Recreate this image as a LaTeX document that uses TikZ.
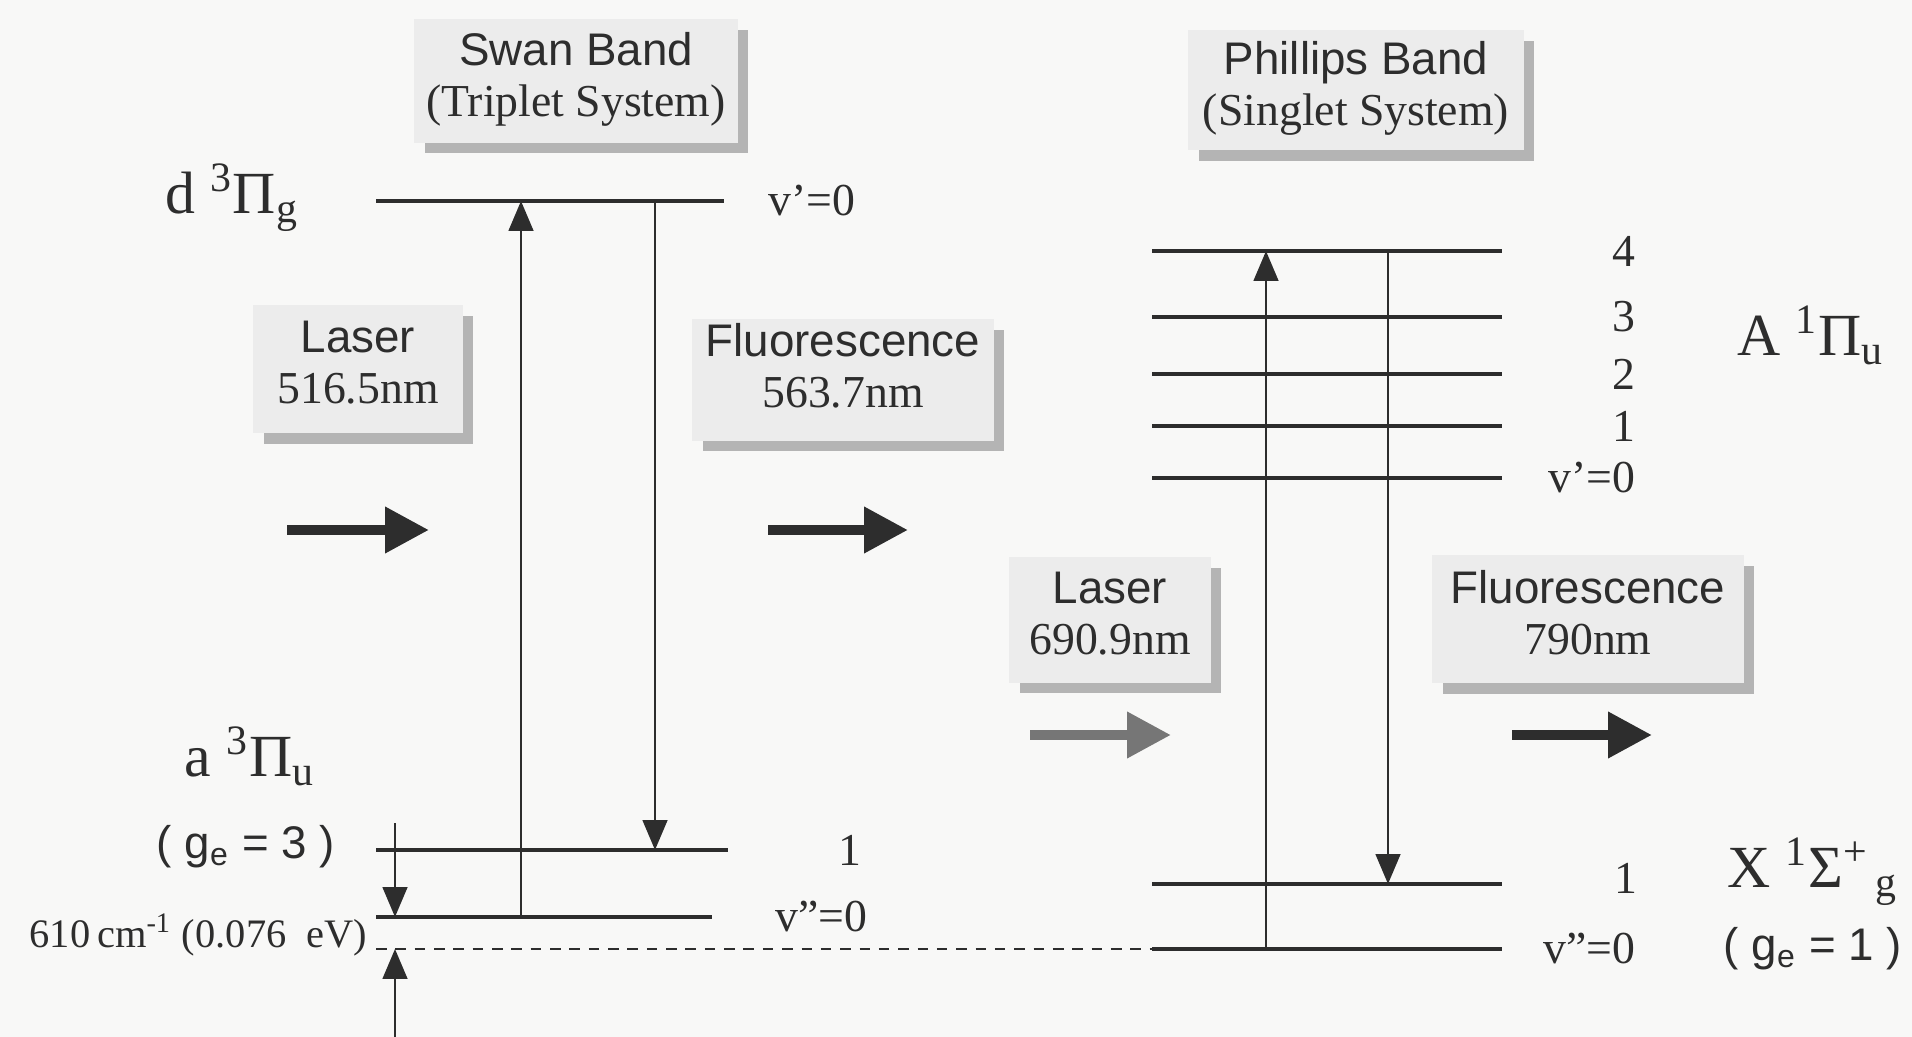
\documentclass[tikz,border=0pt]{standalone}
\usepackage{fontspec}
\setmainfont{Liberation Serif}
\setsansfont{Liberation Sans}
\usetikzlibrary{arrows.meta,positioning,shadows}
\definecolor{paper}{RGB}{248,248,247}
\definecolor{ink}{RGB}{45,45,45}
\definecolor{card}{RGB}{236,236,236}
\definecolor{shade}{RGB}{180,180,180}
\definecolor{pale}{RGB}{118,118,118}
\tikzset{
  band/.style={fill=card,inner sep=0pt,align=center,text=ink,text depth=4pt,
    font=\fontsize{13}{14.5}\selectfont,
    drop shadow={shadow xshift=3pt,shadow yshift=-3pt,fill=shade,opacity=1}},
  lvl/.style={draw=ink,line width=1.1pt},
  trans/.style={draw=ink,line width=0.75pt,-{Triangle[length=8.5pt,width=7pt]}},
  beam/.style={draw=ink,line width=2.9pt,-{Triangle[length=12.5pt,width=12.5pt]}},
  dashln/.style={draw=ink,line width=0.5pt,dash pattern=on 3pt off 2.5pt},
  vlab/.style={text=ink,anchor=east,inner sep=0pt,font=\fontsize{13}{15}\selectfont},
  statelab/.style={text=ink,inner sep=0pt,font=\fontsize{17}{20}\selectfont},
  gelab/.style={text=ink,inner sep=0pt,font=\sffamily\fontsize{13}{15}\selectfont},
}
\begin{document}
\begin{tikzpicture}[x=0.01cm,y=-0.01cm]
  \useasboundingbox (0,0) rectangle (1912,1037);
  \fill[paper] (0,0) rectangle (1912,1037);

  % captions in shadowed boxes
  \node[band,minimum width=3.23cm,minimum height=1.23cm] (swan) at (576,81)
    {{\sffamily Swan Band}\\(Triplet System)};
  \node[band,minimum width=3.35cm,minimum height=1.2cm] (phillips) at (1356,90)
    {{\sffamily Phillips Band}\\(Singlet System)};
  \node[band,minimum width=2.09cm,minimum height=1.28cm] (laserA) at (358,369)
    {{\sffamily Laser}\\516.5nm};
  \node[band,text depth=8pt,minimum width=3.01cm,minimum height=1.21cm] (fluorA) at (843,380)
    {{\sffamily Fluorescence}\\563.7nm};
  \node[band,minimum width=2.01cm,minimum height=1.25cm] (laserB) at (1110,620)
    {{\sffamily Laser}\\690.9nm};
  \node[band,minimum width=3.11cm,minimum height=1.28cm] (fluorB) at (1588,619)
    {{\sffamily Fluorescence}\\790nm};

  % Swan band levels
  \coordinate (dL) at (376,201);  \coordinate (dR) at (724,201);
  \coordinate (aL1) at (376,850); \coordinate (aR1) at (728,850);
  \coordinate (aL0) at (376,917); \coordinate (aR0) at (712,917);
  \draw[lvl] (dL) -- (dR);
  \draw[lvl] (aL1) -- (aR1);
  \draw[lvl] (aL0) -- (aR0);
  \node[vlab] (dlab) at (856,201) {v’=0};
  \node[vlab] (alab1) at (862,850) {1};
  \node[vlab] (alab0) at (868,917) {v”=0};

  % Phillips band levels
  \foreach \v/\y/\t in {4/251/4,3/317/3,2/374/2,1/426/1,0/478/v’=0}{
    \coordinate (AL\v) at (1152,\y); \coordinate (AR\v) at (1502,\y);
    \draw[lvl] (AL\v) -- (AR\v);
    \node[vlab] (Alab\v) at (1636,\y) {\t};
  }
  \coordinate (XL1) at (1152,884); \coordinate (XR1) at (1502,884);
  \coordinate (XL0) at (1152,949); \coordinate (XR0) at (1502,949);
  \draw[lvl] (XL1) -- (XR1);
  \draw[lvl] (XL0) -- (XR0);
  \node[vlab] (Xlab1) at (1638,878) {1};
  \node[vlab] (Xlab0) at (1636,949) {v”=0};

  % transitions
  \coordinate (pumpA) at (521,0); \coordinate (emitA) at (655,0);
  \coordinate (pumpB) at (1266,0); \coordinate (emitB) at (1388,0);
  \draw[trans] (pumpA |- aL0) -- (pumpA |- dL);
  \draw[trans] (emitA |- dL) -- (emitA |- aL1);
  \draw[trans] (pumpB |- XL0) -- (pumpB |- AL4);
  \draw[trans] (emitB |- AL4) -- (emitB |- XL1);

  % energy gap between the two ground states
  \draw[dashln] (aL0 |- XL0) -- (XL0);
  \coordinate (gapA) at (395,823); \coordinate (gapB) at (395,1037);
  \draw[trans] (gapA) -- (gapA |- aL0);
  \draw[trans] (gapB) -- (gapB |- XL0);

  % light beams
  \coordinate (beamA) at (287,530); \coordinate (beamB) at (768,530);
  \coordinate (beamC) at (1030,735); \coordinate (beamD) at (1512,735);
  \draw[beam] (beamA) -- ++(142,0);
  \draw[beam] (beamB) -- ++(140,0);
  \draw[beam,draw=pale] (beamC) -- ++(141,0);
  \draw[beam] (beamD) -- ++(140,0);

  % state labels
  \node[statelab] (dstate) at (232,198) {d \textsuperscript{3}Π\textsubscript{g}};
  \node[statelab] (astate) at (250,756) {a \textsuperscript{3}Π\textsubscript{u}};
  \node[gelab] (age) at (246,847) {( g\textsubscript{e} = 3 )};
  \node[text=ink,anchor=east,inner sep=0pt,font=\fontsize{11.5}{13}\selectfont]
    (gap) at (368,935) {610\,cm\textsuperscript{-1} (0.076\enspace eV)};
  \node[statelab] (Astate) at (1811,335) {A \textsuperscript{1}Π\textsubscript{u}};
  \node[statelab] (Xstate) at (1813,872) {X \textsuperscript{1}Σ\textsuperscript{+}\textsubscript{\,g}};
  \node[gelab] (Xge) at (1813,949) {( g\textsubscript{e} = 1 )};
\end{tikzpicture}
\end{document}
